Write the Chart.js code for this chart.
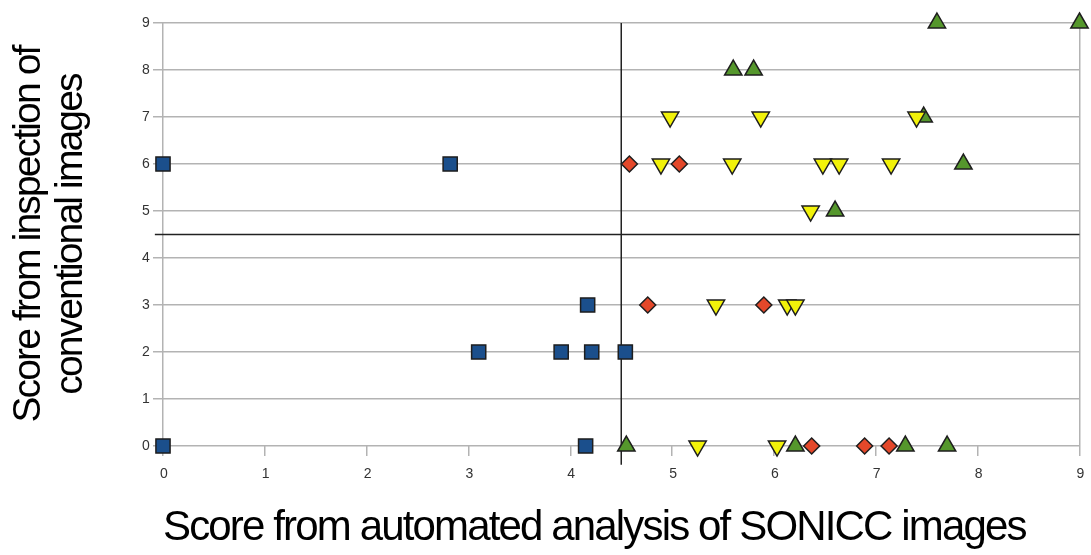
<!DOCTYPE html>
<html>
<head>
<meta charset="utf-8">
<script src="https://cdn.jsdelivr.net/npm/chart.js@4"></script>
<style>
  html, body { margin: 0; padding: 0; background: #fff; }
  #wrap { width: 1091px; height: 555px; }
</style>
</head>
<body>
<div id="wrap"><canvas id="scoreChart"></canvas></div>
<script>
// Blue squares
var blueX = [0, 2.82, 4.17, 3.10, 3.91, 4.21, 4.54, 0, 4.15];
var blueY = [6, 6, 3, 2, 2, 2, 2, 0, 0];
// Red diamonds
var redX = [4.58, 5.07, 4.76, 5.90, 6.37, 6.89, 7.13];
var redY = [6, 6, 3, 3, 0, 0, 0];
// Yellow down triangles
var yellowX = [4.98, 5.87, 7.40, 4.89, 5.59, 6.48, 6.64, 7.15, 6.36, 5.43, 6.13, 6.21, 5.25, 6.03];
var yellowY = [7, 7, 7, 6, 6, 6, 6, 6, 5, 3, 3, 3, 0, 0];
// Green triangles
var greenX = [7.60, 9, 5.60, 5.80, 7.47, 7.86, 6.60, 4.55, 6.21, 7.29, 7.70];
var greenY = [9, 9, 8, 8, 7, 6, 5, 0, 0, 0, 0];

// threshold lines
var vLineX = [4.5, 4.5];
var vLineY = [-0.4, 9];
var hLineX = [-0.08, 9];
var hLineY = [4.5, 4.5];

var axisMin = 0;
var axisMax = 9;

function toPoints(xs, ys) {
    return xs.map(function (x, i) { return {x: x, y: ys[i]}; });
}

var gridGray = '#b3b3b3';
var edge = '#1e1e1e';
var titleFont = "'Liberation Sans', Arial, sans-serif";

var markerDefaults = {
    showLine: false,
    borderColor: edge,
    borderWidth: 1.5,
    clip: false,
    order: 1
};

var datasets = [
    Object.assign({}, markerDefaults, {
        data: toPoints(blueX, blueY),
        pointStyle: 'rect',
        pointRadius: 10,
        backgroundColor: '#1b4f8c'
    }),
    Object.assign({}, markerDefaults, {
        data: toPoints(redX, redY),
        pointStyle: 'rectRot',
        pointRadius: 8,
        backgroundColor: '#e4482a'
    }),
    Object.assign({}, markerDefaults, {
        data: toPoints(yellowX, yellowY),
        pointStyle: 'triangle',
        pointRotation: 180,
        pointRadius: 10,
        backgroundColor: '#f2f20a'
    }),
    Object.assign({}, markerDefaults, {
        data: toPoints(greenX, greenY),
        pointStyle: 'triangle',
        pointRadius: 10,
        backgroundColor: '#55972c'
    }),
    {
        data: toPoints(vLineX, vLineY),
        showLine: true,
        pointRadius: 0,
        borderColor: '#222',
        borderWidth: 1.5,
        clip: false,
        order: 10
    },
    {
        data: toPoints(hLineX, hLineY),
        showLine: true,
        pointRadius: 0,
        borderColor: '#222',
        borderWidth: 1.5,
        clip: false,
        order: 10
    }
];

// the original text is squeezed together, tighten the letters a bit
var tightText = {
    id: 'tightText',
    beforeDraw: function (chart) {
        chart.ctx.letterSpacing = '-1.85px';
    }
};

var ctx = document.getElementById('scoreChart');
var scoreChart = new Chart(ctx, {
    type: 'scatter',
    data: { datasets: datasets },
    plugins: [tightText],
    options: {
        responsive: true,
        maintainAspectRatio: false,
        animation: false,
        events: [],
        layout: { padding: { top: 23, right: 0, left: 0, bottom: 0 } },
        plugins: {
            legend: { display: false },
            tooltip: { enabled: false }
        },
        scales: {
            x: {
                type: 'linear',
                min: axisMin,
                max: axisMax,
                afterFit: function (scale) {
                    scale.height = 109;
                    scale.paddingRight = 0;
                    scale.paddingLeft = 0;
                },
                ticks: {
                    stepSize: 1,
                    padding: 10,
                    color: '#333',
                    font: { family: titleFont, size: 14 }
                },
                grid: {
                    color: function (c) {
                        return (c.tick && (c.tick.value === axisMin || c.tick.value === axisMax)) ? gridGray : 'rgba(0,0,0,0)';
                    },
                    tickColor: gridGray,
                    tickLength: 10,
                    lineWidth: 1.5
                },
                border: { display: false },
                title: {
                    display: true,
                    text: 'Score from automated analysis of SONICC images',
                    align: 'start',
                    color: '#000',
                    padding: { top: 0, bottom: 6 },
                    font: { family: titleFont, size: 42, lineHeight: 1.0 }
                }
            },
            y: {
                type: 'linear',
                min: axisMin,
                max: axisMax,
                afterFit: function (scale) { scale.width = 163; },
                ticks: {
                    stepSize: 1,
                    padding: 5,
                    color: '#333',
                    font: { family: titleFont, size: 14 }
                },
                grid: {
                    color: gridGray,
                    tickLength: 10,
                    lineWidth: 1.5
                },
                border: { display: false },
                title: {
                    display: true,
                    text: ['Score from inspection of', 'conventional images'],
                    color: '#000',
                    padding: { top: 8, bottom: 0 },
                    font: { family: titleFont, size: 39, lineHeight: 1.08 }
                }
            }
        }
    }
});
</script>
</body>
</html>
